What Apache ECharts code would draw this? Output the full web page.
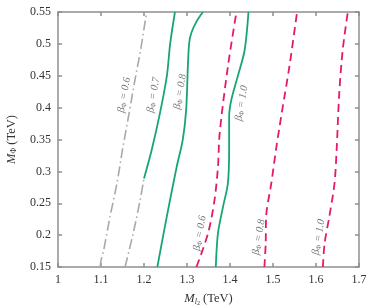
<!DOCTYPE html>
<html>
<head>
<meta charset="utf-8">
<script src="https://cdn.jsdelivr.net/npm/echarts@6/dist/echarts.min.js"></script>
<style>html,body{margin:0;padding:0;background:#fff}#c{width:366px;height:305px}</style>
</head>
<body>
<div id="c"></div>
<script>
// Tick labels
var xTicks = [1, 1.1, 1.2, 1.3, 1.4, 1.5, 1.6, 1.7];
var yTicks = [0.15, 0.2, 0.25, 0.3, 0.35, 0.4, 0.45, 0.5, 0.55];

// Gray dash-dot curves
var grayA_x = [1.098, 1.100, 1.106, 1.121, 1.137, 1.150, 1.165, 1.178, 1.192, 1.206];
var grayA_y = [0.15, 0.16, 0.176, 0.229, 0.281, 0.334, 0.39, 0.44, 0.49, 0.55];
var grayB_x = [1.156, 1.165, 1.175, 1.191, 1.200];
var grayB_y = [0.15, 0.175, 0.203, 0.255, 0.289];

// Green solid curves
var green07_x = [1.200, 1.218, 1.237, 1.253, 1.261, 1.272];
var green07_y = [0.289, 0.334, 0.391, 0.449, 0.501, 0.55];
var green08_x = [1.231, 1.253, 1.276, 1.290, 1.298, 1.302, 1.305, 1.310, 1.322, 1.337];
var green08_y = [0.15, 0.229, 0.307, 0.349, 0.396, 0.464, 0.501, 0.517, 0.535, 0.55];
var green10_x = [1.367, 1.372, 1.384, 1.395, 1.398, 1.398, 1.403, 1.418, 1.434, 1.443];
var green10_y = [0.15, 0.203, 0.245, 0.281, 0.334, 0.386, 0.412, 0.449, 0.49, 0.55];

// Pink dashed curves
var pink06_x = [1.322, 1.349, 1.364, 1.372, 1.376, 1.395, 1.415];
var pink06_y = [0.15, 0.203, 0.255, 0.307, 0.36, 0.464, 0.55];
var pink08_x = [1.480, 1.483, 1.484, 1.496, 1.507, 1.519, 1.538, 1.556];
var pink08_y = [0.15, 0.187, 0.229, 0.281, 0.334, 0.386, 0.464, 0.55];
var pink10_x = [1.616, 1.620, 1.631, 1.643, 1.648, 1.654, 1.662, 1.674];
var pink10_y = [0.15, 0.187, 0.229, 0.281, 0.334, 0.422, 0.49, 0.55];

// Contour labels
var labelText = ['0.6', '0.7', '0.8', '1.0', '0.6', '0.8', '1.0'];
var labelX = [1.154, 1.222, 1.284, 1.427, 1.330, 1.467, 1.606];
var labelY = [0.420, 0.420, 0.425, 0.407, 0.203, 0.197, 0.197];

function zip(xs, ys) { return xs.map(function (v, i) { return [v, ys[i]]; }); }

var GREEN = '#17a673', PINK = '#e5196c', GRAY = '#a9a9a9';
var SERIF = '"Liberation Serif", "DejaVu Serif", serif';

function line(name, xs, ys, color, type, width) {
  return {
    name: name, type: 'line', data: zip(xs, ys), showSymbol: false, symbol: 'none',
    smooth: 0.3, silent: true, z: 3,
    lineStyle: { color: color, width: width, type: type, cap: 'butt' }
  };
}

var labelData = labelText.map(function (t, i) { return { value: [labelX[i], labelY[i]], t: t }; });

var chart = echarts.init(document.getElementById('c'), null, { renderer: 'canvas' });
var axisLineStyle = { color: '#8f8f8f', width: 1.5 };
chart.setOption({
  animation: false,
  backgroundColor: '#fff',
  grid: { left: 58, right: 7, top: 12, bottom: 38, containLabel: false, outerBoundsMode: 'none' },
  xAxis: [{
    type: 'value', min: 1, max: 1.7, interval: 0.1, position: 'bottom',
    axisLine: { show: true, lineStyle: axisLineStyle },
    axisTick: { show: true, inside: true, length: 4, lineStyle: axisLineStyle },
    splitLine: { show: false },
    axisLabel: { color: '#333', fontFamily: SERIF, fontSize: 12, margin: 7,
      formatter: function (v) { var r = Math.round(v * 10) / 10; return xTicks.indexOf(r) >= 0 ? String(r) : ''; } },
    name: '{i|M}{s|l}{ss|2}{n| (TeV)}', nameLocation: 'middle', nameGap: 25,
    nameTextStyle: { fontFamily: SERIF, color: '#333', fontSize: 12.5,
      rich: {
        i: { fontFamily: SERIF, fontStyle: 'italic', fontSize: 12.5, color: '#333' },
        s: { fontFamily: SERIF, fontStyle: 'italic', fontSize: 8, color: '#333', padding: [5, 0, 0, 0] },
        ss: { fontFamily: SERIF, fontSize: 6, color: '#333', padding: [8, 0, 0, 0] },
        n: { fontFamily: SERIF, fontSize: 12.5, color: '#333' }
      } }
  }, {
    type: 'value', min: 1, max: 1.7, interval: 0.1, position: 'top',
    axisLine: { show: true, lineStyle: axisLineStyle },
    axisTick: { show: true, inside: true, length: 4, lineStyle: axisLineStyle },
    axisLabel: { show: false }, splitLine: { show: false }
  }],
  yAxis: [{
    type: 'value', min: 0.15, max: 0.55, interval: 0.05, position: 'left',
    axisLine: { show: true, lineStyle: axisLineStyle },
    axisTick: { show: true, inside: true, length: 4, lineStyle: axisLineStyle },
    splitLine: { show: false },
    axisLabel: { color: '#333', fontFamily: SERIF, fontSize: 12, margin: 7,
      formatter: function (v) { var r = Math.round(v * 100) / 100; return yTicks.indexOf(r) >= 0 ? String(r) : ''; } },
    name: '{i|M}{s|Φ}{n| (TeV)}', nameLocation: 'middle', nameGap: 40, nameRotate: 90,
    nameTextStyle: { fontFamily: SERIF, color: '#333', fontSize: 12.5,
      rich: {
        i: { fontFamily: SERIF, fontStyle: 'italic', fontSize: 12.5, color: '#333' },
        s: { fontFamily: SERIF, fontSize: 8, color: '#333', padding: [5, 0, 0, 0] },
        n: { fontFamily: SERIF, fontSize: 12.5, color: '#333' }
      } }
  }, {
    type: 'value', min: 0.15, max: 0.55, interval: 0.05, position: 'right',
    axisLine: { show: true, lineStyle: axisLineStyle },
    axisTick: { show: true, inside: true, length: 4, lineStyle: axisLineStyle },
    axisLabel: { show: false }, splitLine: { show: false }
  }],
  series: [
    line('grayA', grayA_x, grayA_y, GRAY, [10, 3.5, 1.5, 3.5], 1.6),
    line('grayB', grayB_x, grayB_y, GRAY, [10, 3.5, 1.5, 3.5], 1.6),
    line('green07', green07_x, green07_y, GREEN, 'solid', 1.8),
    line('green08', green08_x, green08_y, GREEN, 'solid', 1.8),
    line('green10', green10_x, green10_y, GREEN, 'solid', 1.8),
    line('pink06', pink06_x, pink06_y, PINK, [8, 5], 1.8),
    line('pink08', pink08_x, pink08_y, PINK, [8, 5], 1.8),
    line('pink10', pink10_x, pink10_y, PINK, [8, 5], 1.8),
    {
      type: 'scatter', data: labelData, symbolSize: 0, silent: true, z: 5,
      label: {
        show: true, position: 'inside', rotate: 80,
        formatter: function (p) { return '{b|β}{s|Φ}{t| = ' + p.data.t + '}'; },
        rich: {
          b: { fontFamily: SERIF, fontStyle: 'italic', fontSize: 10.5, color: '#555' },
          s: { fontFamily: SERIF, fontSize: 7, color: '#555', padding: [4, 0, 0, 0] },
          t: { fontFamily: SERIF, fontStyle: 'italic', fontSize: 10.5, color: '#555' }
        }
      }
    }
  ]
});
</script>
</body>
</html>
